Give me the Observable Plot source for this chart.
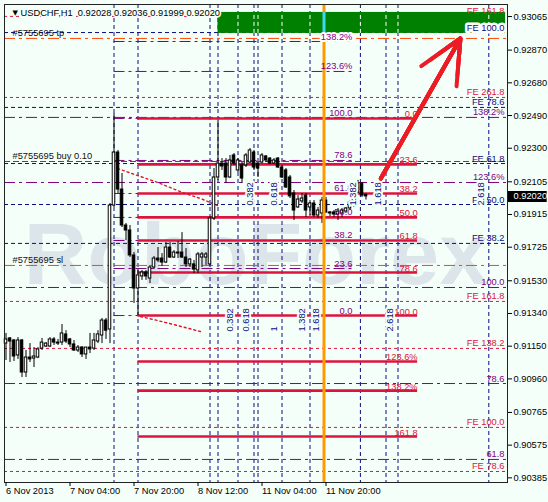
<!DOCTYPE html>
<html>
<head>
<meta charset="utf-8">
<script src="https://cdn.jsdelivr.net/npm/d3@7"></script>
<script src="https://cdn.jsdelivr.net/npm/@observablehq/plot@0.6"></script>
<style>
  html, body { margin: 0; padding: 0; background: #f5fffa; overflow: hidden; }
  #chart svg { display: block; }
</style>
</head>
<body>
<div id="chart"></div>
<script>
// USDCHF H1 candles, bar 0 = 6 Nov 2013 12:00
const symbolTitle = "USDCHF,H1";
const opens = [
  0.91165,0.91195,0.91183,0.91096,0.91183,0.90997,0.91084,0.91078,0.91084,0.91136,
  0.91148,0.91148,0.91189,0.91171,0.91171,0.91218,0.91189,0.91160,0.91125,0.91142,
  0.91102,0.91142,0.91136,0.91177,0.91212,0.91299,0.91247,0.91967,0.92275,0.92060,
  0.91851,0.91822,0.91677,0.91485,0.91555,0.91578,0.91543,0.91607,0.91659,0.91659,
  0.91636,0.91723,0.91665,0.91688,0.91694,0.91665,0.91625,0.91625,0.91590,0.91665,
  0.91665,0.91625,0.91892,0.92130,0.92211,0.92211,0.92130,0.92258,0.92171,0.92200,
  0.92200,0.92217,0.92275,0.92211,0.92217,0.92252,0.92240,0.92211,0.92240,0.92188,
  0.92171,0.92130,0.92037,0.91956,0.91991,0.92025,0.91956,0.91979,0.91909,0.91921,
  0.91996,0.91927,0.91927,0.91915,0.91921,0.91932,0.91950,0.91979,0.92043,0.92095,
  0.92028];
const highs = [
  0.91224,0.91200,0.91189,0.91200,0.91189,0.91125,0.91165,0.91142,0.91142,0.91195,
  0.91171,0.91200,0.91200,0.91189,0.91276,0.91240,0.91195,0.91183,0.91154,0.91148,
  0.91142,0.91224,0.91224,0.91240,0.91311,0.91311,0.91979,0.92502,0.92287,0.92153,
  0.91863,0.91851,0.91694,0.91595,0.91590,0.91590,0.91619,0.91671,0.91723,0.91688,
  0.91752,0.91752,0.91706,0.91758,0.91810,0.91717,0.91659,0.91648,0.91694,0.91694,
  0.91694,0.91903,0.92182,0.92461,0.92240,0.92240,0.92258,0.92269,0.92240,0.92217,
  0.92269,0.92298,0.92287,0.92217,0.92269,0.92258,0.92246,0.92240,0.92246,0.92200,
  0.92182,0.92142,0.92054,0.92025,0.92037,0.92037,0.91985,0.91996,0.91956,0.92014,
  0.92014,0.91932,0.91938,0.91950,0.91950,0.91956,0.91996,0.92095,0.92113,0.92101,
  0.92036];
const lows = [
  0.91067,0.91055,0.91061,0.91073,0.90968,0.90968,0.91055,0.91026,0.91078,0.91125,
  0.91142,0.91142,0.91154,0.91154,0.91154,0.91165,0.91142,0.91119,0.91113,0.91084,
  0.91073,0.91107,0.91125,0.91165,0.91165,0.91189,0.91165,0.91956,0.92037,0.91839,
  0.91764,0.91665,0.91398,0.91328,0.91532,0.91532,0.91514,0.91595,0.91636,0.91613,
  0.91630,0.91659,0.91659,0.91659,0.91659,0.91607,0.91607,0.91572,0.91572,0.91607,
  0.91619,0.91613,0.91880,0.92113,0.92171,0.92095,0.92124,0.92200,0.92159,0.92095,
  0.92188,0.92211,0.92171,0.92130,0.92211,0.92217,0.92206,0.92206,0.92182,0.92124,
  0.92066,0.92008,0.91880,0.91950,0.91979,0.91898,0.91909,0.91898,0.91892,0.91863,
  0.91921,0.91903,0.91898,0.91880,0.91898,0.91921,0.91938,0.91956,0.92037,0.92014,
  0.91999];
const closes = [
  0.91189,0.91177,0.91090,0.91183,0.90997,0.91084,0.91073,0.91090,0.91131,0.91171,
  0.91165,0.91189,0.91171,0.91165,0.91224,0.91177,0.91160,0.91125,0.91142,0.91102,
  0.91142,0.91131,0.91183,0.91218,0.91299,0.91240,0.91967,0.92275,0.92060,0.91851,
  0.91822,0.91677,0.91485,0.91561,0.91578,0.91555,0.91607,0.91659,0.91648,0.91636,
  0.91723,0.91665,0.91694,0.91694,0.91665,0.91625,0.91653,0.91595,0.91683,0.91683,
  0.91683,0.91892,0.92130,0.92211,0.92194,0.92130,0.92229,0.92211,0.92229,0.92124,
  0.92258,0.92287,0.92188,0.92182,0.92258,0.92229,0.92211,0.92229,0.92188,0.92130,
  0.92072,0.92020,0.91938,0.92002,0.92008,0.91938,0.91979,0.91909,0.91938,0.91996,
  0.91927,0.91921,0.91915,0.91932,0.91938,0.91950,0.91985,0.92054,0.92095,0.92025,
  0.92020];

// Time axis
const timeTicks = [0, 16, 32, 48, 64, 80];
const timeLabels = ["6 Nov 2013", "7 Nov 04:00", "7 Nov 20:00", "8 Nov 12:00", "11 Nov 04:00", "11 Nov 20:00"];
const priceTicks = [0.93065, 0.92870, 0.92680, 0.92490, 0.92300, 0.92105, 0.91915, 0.91725,
                    0.91530, 0.91340, 0.91150, 0.90960, 0.90765, 0.90575, 0.90385];

// Fibonacci retracement (thick red)
const retraceLevels = [0.92473, 0.92206, 0.92037, 0.91898, 0.91764, 0.91578, 0.91328, 0.91061, 0.90892, 0.90625];
const retraceLabels = ["0.0", "23.6", "38.2", "50.0", "61.8", "78.6", "100.0", "123.6%", "138.2%", "161.8"];
const retraceBars = [33, 102.9];

// Reverse retracement on the same swing (purple)
const reverseLevels = [0.92920, 0.92746, 0.92473, 0.92229, 0.92037, 0.91898, 0.91764, 0.91601, 0.91328];
const reverseLabels = ["138.2%", "123.6%", "100.0", "78.6", "61.8", "50.0", "38.2", "23.6", "0.0"];
const reverseBars = [27, 86.6];

// Expansion levels across the chart
const feRedLevels = [0.93066, 0.92595, 0.91410, 0.91137, 0.90678, 0.90422];
const feRedLabels = ["FE 161.8", "FE 261.8", "FE 161.8", "FE 138.2", "FE 100.0", "FE 78.6"];
const feNavyLevels = [0.92972, 0.92537, 0.92211, 0.91973, 0.91747];
const feNavyLabels = ["FE 100.0", "FE 78.6", "FE 61.8", "FE 50.0", "FE 38.2"];
const fePurpleLevels = [0.92479, 0.92101, 0.91491, 0.90933, 0.90492];
const fePurpleLabels = ["138.2%", "123.6%", "100.0", "78.6", "61.8"];

// Open order lines
const orderNames = ["#5755695 tp", "#5755695 buy 0.10", "#5755695 sl"];
const orderPrices = [0.92938, 0.92223, 0.91619];

// Fibonacci time zones
const zoneBars = [27, 33, 51, 53, 58, 62, 63, 69, 76, 88.6, 95, 98, 120.7];
const currentBar = 79.5;
const zoneUpperText = ["0.382", "0.618", "1.382", "1.618", "2.618"];
const zoneUpperBars = [63, 69, 88.6, 95, 120.7];
const zoneUpperPrice = 0.91967;
const zoneLowerText = ["0.382", "0.618", "1", "1.382", "1.618", "2.618"];
const zoneLowerBars = [58, 62, 69, 76, 79.5, 98];
const zoneLowerPrice = 0.91235;

// Target zone
const targetBars = [53, 124.9];
const targetPrices = [0.92967, 0.93089];

// Projection arrow
const arrowFrom = [93.7, 0.92124];
const arrowTo = [113.6, 0.92938];

// Dotted arcs
const arcUpperBars = [27.9, 37.9, 44.1, 48.6, 52.9];
const arcUpperPrices = [0.92182, 0.92101, 0.92043, 0.92008, 0.91967];
const arcLowerBars = [33.6, 37.9, 42.9, 48.6];
const arcLowerPrices = [0.91322, 0.91299, 0.91270, 0.91235];

// ---- drawing ----
const bg = "#f5fffa";
const navy = "#0c0c7c";
const purple = "#800080";
const crimson = "#dc143c";
const arrowRed = "#ec1c24";
const fmt = d3.format(".5f");

const candles = opens.map((o, i) => ({i, open: o, high: highs[i], low: lows[i], close: closes[i]}));
const last = candles[candles.length - 1];
const title = `${symbolTitle}\u00a0\u00a0${fmt(last.open)} ${fmt(last.high)} ${fmt(last.low)} ${fmt(last.close)}`;

// nested heads give the arrow a solid tip
const arrowMarks = [18, 14, 10, 6, 3].map(h => Plot.arrow([0], {
  x1: arrowFrom[0], y1: arrowFrom[1], x2: arrowTo[0], y2: arrowTo[1],
  stroke: arrowRed, strokeWidth: 4, headLength: h, headAngle: 50
}));

const chart = Plot.plot({
  width: 548,
  height: 502,
  marginTop: 4,
  marginBottom: 20,
  marginLeft: 4,
  marginRight: 41,
  style: {background: bg, fontFamily: "'Liberation Sans', Arial, sans-serif", fontSize: "9.3px", color: "#000", overflow: "visible"},
  x: {type: "linear", domain: [-0.375, 125.375]},
  y: {domain: [0.90358, 0.93135]},
  marks: [
    // watermark
    Plot.text(["RoboForex"], {frameAnchor: "middle", dy: 40, lineAnchor: "bottom", fontSize: 88, fontWeight: "bold", fill: "#dce5ea"}),

    // time zones
    Plot.ruleX(zoneBars, {stroke: navy, strokeDasharray: "4,3"}),

    // full-width levels
    Plot.ruleY(fePurpleLevels, {stroke: purple, strokeDasharray: "11,4,3,4"}),
    Plot.ruleY(feRedLevels, {stroke: crimson, strokeDasharray: "3,3"}),
    Plot.ruleY(feNavyLevels, {stroke: navy, strokeDasharray: "4,3"}),
    Plot.ruleY([orderPrices[0], orderPrices[2]], {stroke: "#ff4500", strokeDasharray: "11,4,3,4"}),
    Plot.ruleY([orderPrices[1]], {stroke: "#008000", strokeDasharray: "6,3"}),

    // retracements
    Plot.ruleY(reverseLevels, {x1: reverseBars[0], x2: reverseBars[1], stroke: purple, strokeDasharray: "11,4,3,4"}),
    Plot.ruleY(retraceLevels, {x1: retraceBars[0], x2: retraceBars[1], stroke: crimson, strokeWidth: 2.6}),

    // dotted arcs
    Plot.line(arcUpperBars.map((b, i) => [b, arcUpperPrices[i]]), {stroke: "#e8102a", strokeWidth: 1.4, strokeDasharray: "2,3"}),
    Plot.line(arcLowerBars.map((b, i) => [b, arcLowerPrices[i]]), {stroke: "#e8102a", strokeWidth: 1.4, strokeDasharray: "2,3"}),

    // candles
    Plot.ruleX(candles, {x: "i", y1: "low", y2: "high", stroke: "#000"}),
    Plot.rect(candles, {
      x1: d => d.i - 0.32, x2: d => d.i + 0.32, y1: "open", y2: "close",
      fill: d => d.close >= d.open ? "#fff" : "#000", stroke: "#000", strokeWidth: 1
    }),

    // current bar marker
    Plot.ruleX([currentBar], {stroke: "#ff9900", strokeWidth: 3}),

    // target zone
    Plot.rect([0], {x1: targetBars[0], x2: targetBars[1], y1: targetPrices[0], y2: targetPrices[1], fill: "#008000"}),
    Plot.ruleX(zoneBars.filter(b => b > targetBars[0]), {y1: targetPrices[0], y2: targetPrices[1], stroke: "#fff", strokeDasharray: "4,3"}),
    Plot.ruleX([currentBar], {y1: targetPrices[0], y2: targetPrices[1], stroke: "#3ad9f4", strokeWidth: 3}),

    // level labels
    Plot.text(retraceLabels, {x: retraceBars[1], y: (d, i) => retraceLevels[i], text: d => d, textAnchor: "end", lineAnchor: "bottom", dy: -1, fill: crimson}),
    Plot.text(reverseLabels.slice(0, 1), {x: reverseBars[1], y: reverseLevels[0], text: d => d, textAnchor: "end", lineAnchor: "bottom", dy: -2, fill: purple, stroke: "#ffffff", strokeWidth: 4}),
    Plot.text(reverseLabels.slice(1), {x: reverseBars[1], y: (d, i) => reverseLevels[i + 1], text: d => d, textAnchor: "end", lineAnchor: "bottom", dy: -2, fill: purple}),
    Plot.text(feRedLabels, {frameAnchor: "right", dx: -3, y: (d, i) => feRedLevels[i], text: d => d, textAnchor: "end", lineAnchor: "bottom", dy: -2, fill: crimson}),
    Plot.text(feNavyLabels.slice(0, 1), {frameAnchor: "right", dx: -3, y: feNavyLevels[0], text: d => d, textAnchor: "end", lineAnchor: "bottom", dy: -2, fill: navy, stroke: "#ffffff", strokeWidth: 5}),
    Plot.text(feNavyLabels.slice(1), {frameAnchor: "right", dx: -3, y: (d, i) => feNavyLevels[i + 1], text: d => d, textAnchor: "end", lineAnchor: "bottom", dy: -2, fill: navy}),
    Plot.text(fePurpleLabels, {frameAnchor: "right", dx: -3, y: (d, i) => fePurpleLevels[i], text: d => d, textAnchor: "end", lineAnchor: "bottom", dy: -2, fill: purple}),
    Plot.text(orderNames, {frameAnchor: "left", dx: 8, y: (d, i) => orderPrices[i], text: d => d, textAnchor: "start", lineAnchor: "bottom", dy: -2, fill: "#111"}),

    // time zone ratios
    Plot.text(zoneUpperText, {x: (d, i) => zoneUpperBars[i], y: () => zoneUpperPrice, text: d => d, rotate: -90, textAnchor: "start", lineAnchor: "middle", dx: -7.5, fill: navy, stroke: bg, strokeWidth: 4}),
    Plot.text(zoneLowerText, {x: (d, i) => zoneLowerBars[i], y: () => zoneLowerPrice, text: d => d, rotate: -90, textAnchor: "start", lineAnchor: "middle", dx: -7.5, fill: navy, stroke: bg, strokeWidth: 4}),

    // projection arrow
    ...arrowMarks,

    // chart title
    Plot.text(["\u25BC"], {frameAnchor: "top-left", dx: 8, dy: 6, lineAnchor: "top", fontSize: 7, fontFamily: "'DejaVu Sans', sans-serif", fill: "#000"}),
    Plot.text([title], {frameAnchor: "top-left", dx: 16, dy: 5, lineAnchor: "top", text: d => d, fill: "#000", stroke: bg, strokeWidth: 3}),

    // frame and axes
    Plot.frame({stroke: "#222"}),
    Plot.axisY({anchor: "right", ticks: priceTicks, tickFormat: fmt, tickSize: 4, tickPadding: 2, label: null, fill: "#000"}),
    Plot.axisX({ticks: timeTicks, tickFormat: d => timeLabels[timeTicks.indexOf(d)], textAnchor: "start", tickSize: 4, tickPadding: 1, label: null, fill: "#000"}),

    // last price tag
    Plot.ruleY([last], {y: "close", x1: 125.6, x2: 135.3, stroke: "#000", strokeWidth: 11}),
    Plot.text([last], {y: "close", frameAnchor: "right", dx: 6, textAnchor: "start", text: d => fmt(d.close), fill: "#fff"})
  ]
});

document.getElementById("chart").append(chart);
</script>
</body>
</html>
